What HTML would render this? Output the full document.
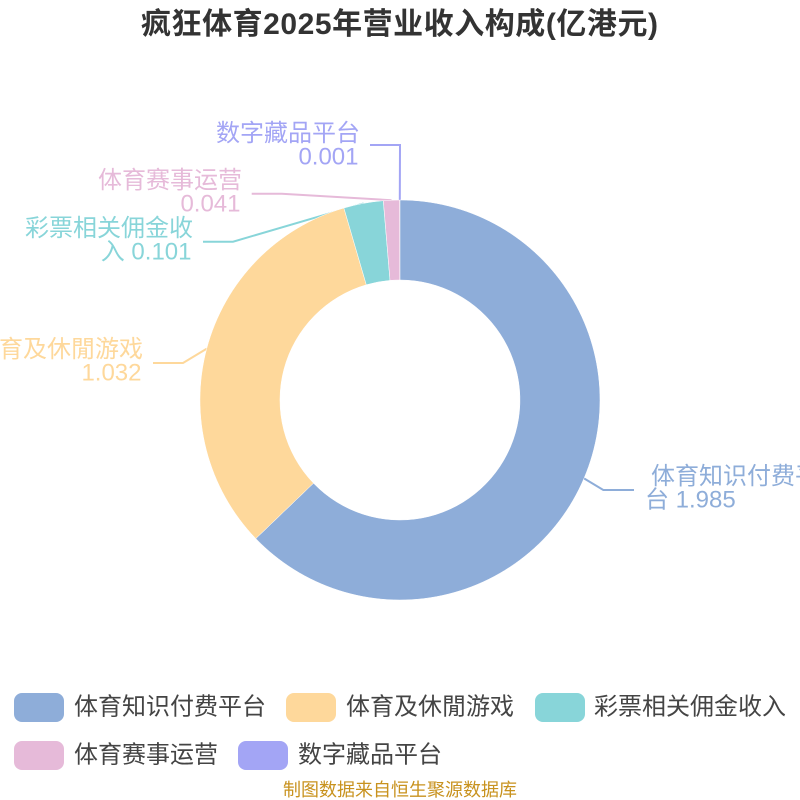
<!DOCTYPE html>
<html>
<head>
<meta charset="utf-8">
<style>
html,body{margin:0;padding:0;background:#fff;width:800px;height:800px;overflow:hidden}
svg{display:block}
text{font-family:"Liberation Sans","Noto Sans CJK SC",sans-serif}
</style>
</head>
<body>
<svg width="800" height="800" viewBox="0 0 800 800" xmlns="http://www.w3.org/2000/svg">
<rect width="800" height="800" fill="#fff"/>
<text x="141" y="34" textLength="517" lengthAdjust="spacing" font-size="30" font-weight="700" fill="#333">疯狂体育2025年营业收入构成(亿港元)</text>

<g fill="none" stroke-width="2">
<polyline points="584,478.4 603.3,490 634,490" stroke="#8eadd9"/>
<polyline points="206.8,348.6 183,363 153,363" stroke="#fed89b"/>
<polyline points="363.6,203.4 233,241.7 203,241.7" stroke="#88d5d9"/>
<polyline points="391.5,200.2 281.7,193.7 251.7,193.7" stroke="#e6bad9"/>
<polyline points="399.8,200 400,145 370,145" stroke="#a3a5f5"/>
</g>

<g stroke="#fff" stroke-width="0.5">
<path d="M400,200 A200,200 0 1 1 255.8,538.6 L313.5,483.2 A120,120 0 1 0 400,280 Z" fill="#8eadd9"/>
<path d="M255.8,538.6 A200,200 0 0 1 343.9,208 L366.3,284.8 A120,120 0 0 0 313.5,483.2 Z" fill="#fed89b"/>
<path d="M343.9,208 A200,200 0 0 1 383.3,200.7 L390,280.4 A120,120 0 0 0 366.3,284.8 Z" fill="#88d5d9"/>
<path d="M383.3,200.7 A200,200 0 0 1 399.6,200 L399.8,280 A120,120 0 0 0 390,280.4 Z" fill="#e6bad9"/>
</g>

<g font-size="24">
<g fill="#a3a5f5" text-anchor="end">
<text x="360" y="141">数字藏品平台</text>
<text x="358.5" y="164.5">0.001</text>
</g>
<g fill="#e6bad9" text-anchor="end">
<text x="242" y="188">体育赛事运营</text>
<text x="240.5" y="211.5">0.041</text>
</g>
<g fill="#88d5d9" text-anchor="end">
<text x="193" y="236">彩票相关佣金收</text>
<text x="191.5" y="259.5">入 0.101</text>
</g>
<g fill="#fed89b" text-anchor="end">
<text x="143" y="357">体育及休閒游戏</text>
<text x="141.5" y="380.5">1.032</text>
</g>
<g fill="#8eadd9">
<text x="651" y="484">体育知识付费平台</text>
<text x="645" y="507.5">台 1.985</text>
</g>
</g>

<g>
<rect x="14" y="693" width="50" height="29" rx="8" fill="#8eadd9"/>
<rect x="286" y="693" width="50" height="29" rx="8" fill="#fed89b"/>
<rect x="535" y="693" width="50" height="29" rx="8" fill="#88d5d9"/>
<rect x="14" y="741" width="50" height="29" rx="8" fill="#e6bad9"/>
<rect x="238" y="741" width="50" height="29" rx="8" fill="#a3a5f5"/>
</g>
<g font-size="24" fill="#444">
<text x="74" y="714.5">体育知识付费平台</text>
<text x="346" y="714.5">体育及休閒游戏</text>
<text x="594" y="714.5">彩票相关佣金收入</text>
<text x="74" y="762.5">体育赛事运营</text>
<text x="298" y="762.5">数字藏品平台</text>
</g>
<text x="400" y="796" text-anchor="middle" font-size="18" fill="#c8921e">制图数据来自恒生聚源数据库</text>
</svg>
</body>
</html>
